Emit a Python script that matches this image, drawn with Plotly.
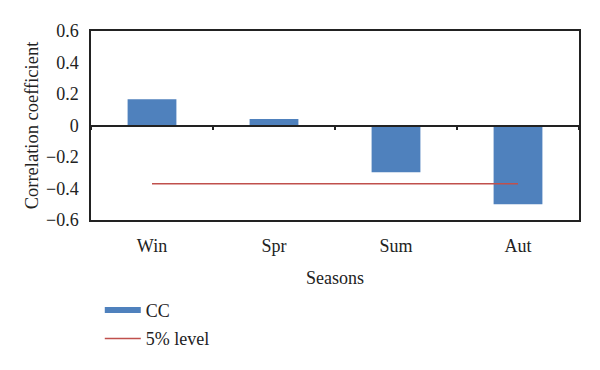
import plotly.graph_objects as go

seasons = ["Win", "Spr", "Sum", "Aut"]
cc_values = [0.166, 0.041, -0.297, -0.50]
level_5pct = [-0.37, -0.37, -0.37, -0.37]
y_ticks = [-0.6, -0.4, -0.2, 0, 0.2, 0.4, 0.6]
y_tick_labels = ["\u22120.6", "\u22120.4", "\u22120.2", "0", "0.2", "0.4", "0.6"]

BLUE = "#4F81BD"
RED = "#C0504D"
FONT = "Liberation Serif"

fig = go.Figure()
fig.add_trace(go.Bar(x=seasons, y=cc_values, marker=dict(color=BLUE, line=dict(width=0)),
                     name="CC", showlegend=False))
# legend proxy for wide bar swatch
fig.add_trace(go.Scatter(x=[None], y=[None], mode="lines", line=dict(color=BLUE, width=6),
                         name="CC", legendgroup="a"))
fig.add_trace(go.Scatter(x=seasons, y=level_5pct, mode="lines", line=dict(color=RED, width=1.5),
                         name="5% level", legendgroup="b"))
# axis at zero with boundary ticks
fig.add_trace(go.Scatter(x=seasons, y=[None]*4, xaxis="x2", showlegend=False, hoverinfo="skip"))

fig.update_layout(
    width=592, height=362,
    margin=dict(l=83, r=21, t=23, b=150),
    paper_bgcolor="white", plot_bgcolor="white",
    font=dict(family=FONT, size=18, color="#222"),
    bargap=0.6,
    xaxis=dict(showline=True, mirror=True, linecolor="#222", linewidth=1.5, ticks="",
               ticklabelstandoff=9, showgrid=False, automargin=False,
               title=dict(text="Seasons", standoff=16, font=dict(size=18))),
    xaxis2=dict(overlaying="x", anchor="free", position=0.5, side="bottom",
                showline=True, linecolor="#222", linewidth=1.5,
                ticks="outside", tickson="boundaries", ticklen=4, tickcolor="#222", tickwidth=1.5,
                showticklabels=False, showgrid=False, matches="x", automargin=False),
    yaxis=dict(range=[-0.6, 0.6], tickvals=y_ticks, ticktext=y_tick_labels,
               showline=True, mirror=True, linecolor="#222", linewidth=1.5,
               showgrid=False, zeroline=False, ticks="", ticklabelstandoff=7, automargin=False,
               title=dict(text="Correlation coefficient", standoff=3, font=dict(size=18.5))),
    legend=dict(x=0.018, xanchor="left", y=-0.38, yanchor="top", traceorder="grouped",
                tracegroupgap=2, itemwidth=36, font=dict(size=18), bgcolor="rgba(0,0,0,0)"),
)
fig.write_html("out.html")
